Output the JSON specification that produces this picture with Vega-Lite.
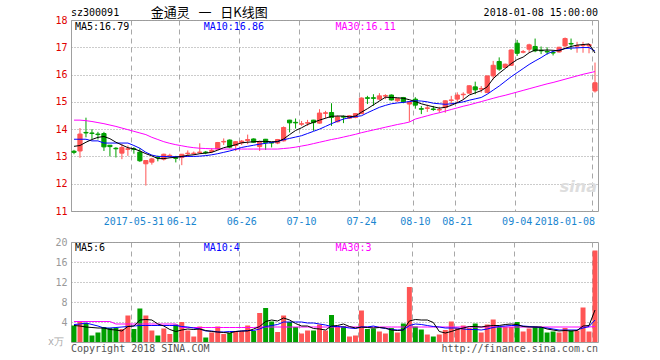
{
"$schema": "https://vega.github.io/schema/vega-lite/v6.json",
"background": "white",
"padding": {"left": 47, "top": 6, "right": 5, "bottom": 5},
"config": {
  "font": "DejaVu Sans Mono",
  "view": {"stroke": "#a0a0a0", "strokeWidth": 1},
  "axis": {"labelFont": "DejaVu Sans Mono", "labelFontSize": 10, "ticks": false, "domain": false, "gridColor": "#a8a8a8", "gridWidth": 1, "labelOverlap": false},
  "text": {"font": "DejaVu Sans Mono", "fontSize": 10},
  "line": {"strokeWidth": 1}
},
"datasets": {"k": [
{"d":"2017-05-15","o":13.19,"h":13.24,"l":13.08,"c":13.15,"v":3.3,"m5":13.37,"m10":13.63,"m30":14.33,"vm5":3.3,"vm10":3.5,"vm30":4.1},
{"d":"2017-05-16","o":13.20,"h":14.04,"l":12.95,"c":13.82,"v":4.0,"m5":13.40,"m10":13.63,"m30":14.33,"vm5":3.2,"vm10":3.6,"vm30":4.1},
{"d":"2017-05-17","o":13.88,"h":14.42,"l":13.70,"c":13.86,"v":3.8,"m5":13.52,"m10":13.63,"m30":14.31,"vm5":3.0,"vm10":3.8,"vm30":4.1},
{"d":"2017-05-18","o":13.86,"h":14.00,"l":13.64,"c":13.84,"v":1.3,"m5":13.62,"m10":13.57,"m30":14.28,"vm5":2.9,"vm10":3.5,"vm30":4.1},
{"d":"2017-05-19","o":13.82,"h":13.90,"l":13.62,"c":13.80,"v":1.9,"m5":13.70,"m10":13.57,"m30":14.24,"vm5":2.8,"vm10":3.2,"vm30":4.1},
{"d":"2017-05-22","o":13.84,"h":13.90,"l":13.20,"c":13.35,"v":3.0,"m5":13.73,"m10":13.49,"m30":14.20,"vm5":2.8,"vm10":2.8,"vm30":4.1},
{"d":"2017-05-23","o":13.41,"h":13.42,"l":13.00,"c":13.36,"v":2.8,"m5":13.65,"m10":13.49,"m30":14.15,"vm5":2.5,"vm10":2.8,"vm30":4.1},
{"d":"2017-05-24","o":13.30,"h":13.34,"l":12.96,"c":13.28,"v":2.8,"m5":13.52,"m10":13.49,"m30":14.10,"vm5":2.4,"vm10":2.9,"vm30":3.6},
{"d":"2017-05-25","o":13.12,"h":13.45,"l":12.90,"c":13.33,"v":2.6,"m5":13.42,"m10":13.49,"m30":14.04,"vm5":2.2,"vm10":3.0,"vm30":3.6},
{"d":"2017-05-26","o":13.26,"h":13.40,"l":13.02,"c":13.28,"v":5.3,"m5":13.32,"m10":13.49,"m30":13.98,"vm5":3.1,"vm10":3.1,"vm30":3.6},
{"d":"2017-05-31","o":13.28,"h":13.34,"l":13.10,"c":13.26,"v":2.6,"m5":13.28,"m10":13.40,"m30":13.92,"vm5":3.2,"vm10":3.2,"vm30":3.6},
{"d":"2017-06-01","o":13.16,"h":13.30,"l":12.80,"c":12.84,"v":6.7,"m5":13.20,"m10":13.30,"m30":13.86,"vm5":4.4,"vm10":3.3,"vm30":3.6},
{"d":"2017-06-02","o":12.73,"h":12.86,"l":11.93,"c":12.85,"v":5.3,"m5":13.10,"m10":13.15,"m30":13.80,"vm5":4.5,"vm10":3.3,"vm30":3.6},
{"d":"2017-06-05","o":12.79,"h":12.95,"l":12.70,"c":12.91,"v":2.3,"m5":13.02,"m10":13.05,"m30":13.70,"vm5":4.4,"vm10":3.3,"vm30":3.6},
{"d":"2017-06-06","o":12.97,"h":13.03,"l":12.82,"c":12.95,"v":1.3,"m5":12.92,"m10":13.00,"m30":13.62,"vm5":3.6,"vm10":3.3,"vm30":3.6},
{"d":"2017-06-07","o":12.90,"h":13.10,"l":12.85,"c":13.08,"v":2.7,"m5":12.92,"m10":13.00,"m30":13.54,"vm5":3.2,"vm10":3.3,"vm30":3.6},
{"d":"2017-06-08","o":13.02,"h":13.10,"l":12.96,"c":13.04,"v":1.6,"m5":12.95,"m10":12.99,"m30":13.48,"vm5":2.5,"vm10":3.3,"vm30":3.6},
{"d":"2017-06-09","o":12.95,"h":13.02,"l":12.78,"c":12.93,"v":3.5,"m5":12.97,"m10":12.99,"m30":13.43,"vm5":2.1,"vm10":3.3,"vm30":3.6},
{"d":"2017-06-12","o":12.96,"h":13.08,"l":12.68,"c":13.08,"v":4.0,"m5":13.00,"m10":12.99,"m30":13.39,"vm5":2.4,"vm10":3.1,"vm30":2.9},
{"d":"2017-06-13","o":13.10,"h":13.22,"l":12.98,"c":13.12,"v":2.3,"m5":13.04,"m10":13.00,"m30":13.35,"vm5":2.6,"vm10":3.0,"vm30":2.9},
{"d":"2017-06-14","o":13.10,"h":13.18,"l":13.05,"c":13.12,"v":1.1,"m5":13.06,"m10":13.00,"m30":13.32,"vm5":2.5,"vm10":2.8,"vm30":2.9},
{"d":"2017-06-15","o":13.14,"h":13.48,"l":13.10,"c":13.16,"v":3.1,"m5":13.10,"m10":13.01,"m30":13.30,"vm5":2.6,"vm10":2.6,"vm30":2.9},
{"d":"2017-06-16","o":13.16,"h":13.20,"l":13.08,"c":13.14,"v":0.9,"m5":13.12,"m10":13.03,"m30":13.29,"vm5":2.3,"vm10":2.2,"vm30":2.9},
{"d":"2017-06-19","o":13.18,"h":13.30,"l":13.12,"c":13.22,"v":1.9,"m5":13.15,"m10":13.06,"m30":13.28,"vm5":2.1,"vm10":2.2,"vm30":2.9},
{"d":"2017-06-20","o":13.27,"h":13.53,"l":13.25,"c":13.51,"v":3.1,"m5":13.23,"m10":13.10,"m30":13.28,"vm5":2.0,"vm10":2.0,"vm30":2.9},
{"d":"2017-06-21","o":13.53,"h":13.66,"l":13.42,"c":13.55,"v":1.6,"m5":13.32,"m10":13.15,"m30":13.27,"vm5":1.9,"vm10":2.0,"vm30":2.9},
{"d":"2017-06-22","o":13.60,"h":13.62,"l":13.30,"c":13.34,"v":1.8,"m5":13.37,"m10":13.20,"m30":13.27,"vm5":1.8,"vm10":2.1,"vm30":2.9},
{"d":"2017-06-23","o":13.40,"h":13.56,"l":13.20,"c":13.54,"v":2.2,"m5":13.43,"m10":13.26,"m30":13.27,"vm5":2.1,"vm10":2.1,"vm30":2.9},
{"d":"2017-06-26","o":13.50,"h":13.60,"l":13.42,"c":13.56,"v":2.2,"m5":13.50,"m10":13.33,"m30":13.27,"vm5":2.2,"vm10":2.2,"vm30":2.9},
{"d":"2017-06-27","o":13.58,"h":13.80,"l":13.45,"c":13.62,"v":3.3,"m5":13.52,"m10":13.37,"m30":13.27,"vm5":2.2,"vm10":2.3,"vm30":2.9},
{"d":"2017-06-28","o":13.64,"h":13.66,"l":13.50,"c":13.52,"v":2.2,"m5":13.54,"m10":13.41,"m30":13.27,"vm5":2.6,"vm10":2.3,"vm30":2.9},
{"d":"2017-06-29","o":13.36,"h":13.58,"l":13.20,"c":13.54,"v":5.8,"m5":13.55,"m10":13.45,"m30":13.27,"vm5":3.1,"vm10":2.6,"vm30":3.0},
{"d":"2017-06-30","o":13.63,"h":13.64,"l":13.24,"c":13.51,"v":6.8,"m5":13.55,"m10":13.48,"m30":13.27,"vm5":4.1,"vm10":3.1,"vm30":3.0},
{"d":"2017-07-03","o":13.51,"h":13.52,"l":13.33,"c":13.49,"v":4.1,"m5":13.54,"m10":13.51,"m30":13.27,"vm5":4.4,"vm10":3.3,"vm30":3.0},
{"d":"2017-07-04","o":13.49,"h":13.64,"l":13.45,"c":13.62,"v":2.0,"m5":13.54,"m10":13.55,"m30":13.27,"vm5":4.2,"vm10":3.5,"vm30":3.0},
{"d":"2017-07-05","o":13.57,"h":14.10,"l":13.55,"c":14.06,"v":5.3,"m5":13.64,"m10":13.61,"m30":13.29,"vm5":4.8,"vm10":4.0,"vm30":3.0},
{"d":"2017-07-06","o":14.33,"h":14.34,"l":13.88,"c":14.23,"v":4.0,"m5":13.80,"m10":13.66,"m30":13.31,"vm5":4.4,"vm10":4.0,"vm30":3.0},
{"d":"2017-07-07","o":14.25,"h":14.39,"l":14.02,"c":14.23,"v":3.0,"m5":13.95,"m10":13.71,"m30":13.34,"vm5":3.7,"vm10":4.0,"vm30":3.0},
{"d":"2017-07-10","o":14.18,"h":14.30,"l":14.12,"c":14.20,"v":1.7,"m5":14.05,"m10":13.76,"m30":13.38,"vm5":3.2,"vm10":4.0,"vm30":3.0},
{"d":"2017-07-11","o":14.22,"h":14.34,"l":14.12,"c":14.24,"v":2.3,"m5":14.17,"m10":13.84,"m30":13.42,"vm5":3.2,"vm10":3.8,"vm30":3.0},
{"d":"2017-07-12","o":14.33,"h":14.34,"l":13.94,"c":14.24,"v":2.3,"m5":14.25,"m10":13.92,"m30":13.47,"vm5":2.7,"vm10":3.8,"vm30":3.0},
{"d":"2017-07-13","o":14.22,"h":14.73,"l":14.20,"c":14.59,"v":3.5,"m5":14.33,"m10":14.00,"m30":13.52,"vm5":2.6,"vm10":3.6,"vm30":3.0},
{"d":"2017-07-14","o":14.58,"h":14.67,"l":14.39,"c":14.60,"v":2.3,"m5":14.40,"m10":14.10,"m30":13.57,"vm5":2.4,"vm10":3.4,"vm30":3.0},
{"d":"2017-07-17","o":14.61,"h":14.95,"l":14.12,"c":14.43,"v":5.4,"m5":14.47,"m10":14.20,"m30":13.62,"vm5":3.2,"vm10":3.1,"vm30":3.0},
{"d":"2017-07-18","o":14.27,"h":14.50,"l":14.25,"c":14.45,"v":3.1,"m5":14.48,"m10":14.29,"m30":13.66,"vm5":3.3,"vm10":3.1,"vm30":3.0},
{"d":"2017-07-19","o":14.46,"h":14.50,"l":14.22,"c":14.44,"v":3.2,"m5":14.48,"m10":14.37,"m30":13.71,"vm5":3.6,"vm10":3.0,"vm30":3.0},
{"d":"2017-07-20","o":14.40,"h":14.50,"l":14.38,"c":14.49,"v":1.1,"m5":14.45,"m10":14.42,"m30":13.76,"vm5":3.1,"vm10":2.8,"vm30":3.0},
{"d":"2017-07-21","o":14.43,"h":14.58,"l":14.40,"c":14.57,"v":1.3,"m5":14.48,"m10":14.46,"m30":13.81,"vm5":2.8,"vm10":2.7,"vm30":3.0},
{"d":"2017-07-24","o":14.57,"h":15.16,"l":14.55,"c":15.14,"v":6.3,"m5":14.62,"m10":14.49,"m30":13.87,"vm5":3.0,"vm10":3.0,"vm30":3.0},
{"d":"2017-07-25","o":15.15,"h":15.22,"l":14.92,"c":15.13,"v":2.6,"m5":14.75,"m10":14.60,"m30":13.92,"vm5":2.9,"vm10":3.0,"vm30":3.0},
{"d":"2017-07-26","o":15.15,"h":15.28,"l":14.86,"c":15.13,"v":2.7,"m5":14.89,"m10":14.70,"m30":13.97,"vm5":2.8,"vm10":3.2,"vm30":3.0},
{"d":"2017-07-27","o":15.10,"h":15.32,"l":15.05,"c":15.22,"v":2.1,"m5":15.03,"m10":14.80,"m30":14.02,"vm5":2.9,"vm10":2.9,"vm30":3.0},
{"d":"2017-07-28","o":15.21,"h":15.28,"l":15.10,"c":15.23,"v":1.7,"m5":15.17,"m10":14.87,"m30":14.07,"vm5":2.8,"vm10":2.7,"vm30":3.0},
{"d":"2017-07-31","o":15.25,"h":15.27,"l":15.05,"c":15.07,"v":2.8,"m5":15.16,"m10":14.93,"m30":14.12,"vm5":2.4,"vm10":2.5,"vm30":3.0},
{"d":"2017-08-07","o":15.04,"h":15.14,"l":15.00,"c":15.12,"v":1.9,"m5":15.15,"m10":14.96,"m30":14.17,"vm5":2.3,"vm10":2.4,"vm30":3.0},
{"d":"2017-08-08","o":15.16,"h":15.18,"l":14.95,"c":15.00,"v":3.7,"m5":15.13,"m10":14.98,"m30":14.21,"vm5":2.4,"vm10":2.4,"vm30":3.0},
{"d":"2017-08-09","o":14.92,"h":15.02,"l":14.27,"c":15.00,"v":11.0,"m5":15.08,"m10":15.01,"m30":14.26,"vm5":4.2,"vm10":3.3,"vm30":3.0},
{"d":"2017-08-10","o":15.10,"h":15.17,"l":14.75,"c":14.88,"v":3.1,"m5":15.01,"m10":15.04,"m30":14.37,"vm5":4.5,"vm10":3.6,"vm30":3.0},
{"d":"2017-08-11","o":14.75,"h":14.85,"l":14.55,"c":14.73,"v":2.5,"m5":14.93,"m10":15.03,"m30":14.43,"vm5":4.4,"vm10":3.5,"vm30":3.0},
{"d":"2017-08-14","o":14.76,"h":14.90,"l":14.63,"c":14.78,"v":1.5,"m5":14.87,"m10":15.00,"m30":14.49,"vm5":4.4,"vm10":3.3,"vm30":3.0},
{"d":"2017-08-15","o":14.74,"h":14.85,"l":14.67,"c":14.72,"v":1.1,"m5":14.82,"m10":14.95,"m30":14.55,"vm5":3.9,"vm10":3.1,"vm30":3.0},
{"d":"2017-08-16","o":14.70,"h":14.82,"l":14.60,"c":14.72,"v":1.5,"m5":14.77,"m10":14.93,"m30":14.60,"vm5":2.1,"vm10":3.0,"vm30":3.0},
{"d":"2017-08-17","o":14.79,"h":15.05,"l":14.60,"c":15.04,"v":2.4,"m5":14.80,"m10":14.91,"m30":14.66,"vm5":1.8,"vm10":2.8,"vm30":3.0},
{"d":"2017-08-18","o":15.05,"h":15.22,"l":14.88,"c":15.07,"v":4.1,"m5":14.87,"m10":14.93,"m30":14.72,"vm5":2.1,"vm10":2.8,"vm30":3.0},
{"d":"2017-08-21","o":15.10,"h":15.35,"l":14.98,"c":15.25,"v":2.8,"m5":14.97,"m10":14.96,"m30":14.78,"vm5":2.5,"vm10":2.8,"vm30":3.0},
{"d":"2017-08-22","o":15.26,"h":15.35,"l":15.10,"c":15.28,"v":3.3,"m5":15.08,"m10":15.00,"m30":14.84,"vm5":2.8,"vm10":2.6,"vm30":3.0},
{"d":"2017-08-23","o":15.32,"h":15.60,"l":15.30,"c":15.59,"v":2.8,"m5":15.25,"m10":15.06,"m30":14.89,"vm5":3.1,"vm10":2.5,"vm30":3.0},
{"d":"2017-08-24","o":15.55,"h":15.74,"l":15.28,"c":15.44,"v":3.7,"m5":15.33,"m10":15.11,"m30":14.95,"vm5":3.1,"vm10":2.5,"vm30":3.0},
{"d":"2017-08-25","o":15.47,"h":15.58,"l":15.34,"c":15.49,"v":1.9,"m5":15.41,"m10":15.16,"m30":15.01,"vm5":3.0,"vm10":2.4,"vm30":3.0},
{"d":"2017-08-28","o":15.34,"h":15.96,"l":15.32,"c":15.95,"v":3.5,"m5":15.55,"m10":15.28,"m30":15.07,"vm5":3.2,"vm10":2.6,"vm30":3.0},
{"d":"2017-08-29","o":15.95,"h":16.50,"l":15.82,"c":16.34,"v":4.5,"m5":15.85,"m10":15.43,"m30":15.13,"vm5":3.3,"vm10":2.9,"vm30":3.0},
{"d":"2017-08-30","o":16.48,"h":16.63,"l":16.14,"c":16.20,"v":3.0,"m5":16.05,"m10":15.58,"m30":15.19,"vm5":3.3,"vm10":3.1,"vm30":3.0},
{"d":"2017-08-31","o":16.26,"h":16.40,"l":16.24,"c":16.38,"v":3.0,"m5":16.22,"m10":15.75,"m30":15.24,"vm5":3.5,"vm10":3.2,"vm30":3.0},
{"d":"2017-09-01","o":16.34,"h":16.92,"l":16.32,"c":16.90,"v":3.0,"m5":16.40,"m10":15.92,"m30":15.30,"vm5":3.6,"vm10":3.3,"vm30":3.0},
{"d":"2017-09-04","o":17.15,"h":17.27,"l":16.68,"c":16.78,"v":4.0,"m5":16.55,"m10":16.07,"m30":15.36,"vm5":3.5,"vm10":3.3,"vm30":3.0},
{"d":"2017-09-05","o":16.82,"h":16.90,"l":16.78,"c":16.84,"v":2.1,"m5":16.64,"m10":16.22,"m30":15.42,"vm5":3.1,"vm10":3.2,"vm30":3.0},
{"d":"2017-09-06","o":16.93,"h":17.13,"l":16.80,"c":17.09,"v":2.7,"m5":16.80,"m10":16.37,"m30":15.48,"vm5":3.0,"vm10":3.1,"vm30":3.0},
{"d":"2017-09-07","o":17.03,"h":17.32,"l":16.82,"c":16.87,"v":3.1,"m5":16.90,"m10":16.50,"m30":15.54,"vm5":3.0,"vm10":3.0,"vm30":3.0},
{"d":"2017-09-08","o":16.89,"h":17.03,"l":16.75,"c":16.87,"v":3.0,"m5":16.89,"m10":16.62,"m30":15.60,"vm5":3.0,"vm10":2.9,"vm30":3.0},
{"d":"2017-09-11","o":16.85,"h":17.00,"l":16.73,"c":16.83,"v":1.9,"m5":16.90,"m10":16.76,"m30":15.66,"vm5":2.6,"vm10":2.8,"vm30":3.0},
{"d":"2017-09-12","o":16.81,"h":16.88,"l":16.70,"c":16.79,"v":2.1,"m5":16.89,"m10":16.85,"m30":15.71,"vm5":2.4,"vm10":2.6,"vm30":3.0},
{"d":"2017-09-13","o":16.83,"h":17.02,"l":16.80,"c":17.00,"v":1.9,"m5":16.87,"m10":16.90,"m30":15.77,"vm5":2.2,"vm10":2.4,"vm30":3.0},
{"d":"2017-09-14","o":17.05,"h":17.36,"l":17.00,"c":17.32,"v":2.8,"m5":16.96,"m10":16.95,"m30":15.83,"vm5":2.3,"vm10":2.4,"vm30":3.0},
{"d":"2017-09-15","o":17.14,"h":17.32,"l":16.90,"c":17.12,"v":2.3,"m5":17.03,"m10":16.97,"m30":15.89,"vm5":2.2,"vm10":2.4,"vm30":3.0},
{"d":"2017-09-18","o":17.04,"h":17.20,"l":16.80,"c":17.06,"v":2.3,"m5":17.08,"m10":16.98,"m30":15.95,"vm5":2.3,"vm10":2.4,"vm30":3.0},
{"d":"2017-09-19","o":17.06,"h":17.20,"l":16.80,"c":17.08,"v":6.9,"m5":17.10,"m10":16.99,"m30":16.01,"vm5":3.2,"vm10":2.8,"vm30":3.0},
{"d":"2017-09-20","o":17.05,"h":17.14,"l":16.78,"c":17.10,"v":2.1,"m5":17.12,"m10":16.99,"m30":16.06,"vm5":3.3,"vm10":3.1,"vm30":3.0},
{"d":"2018-01-08","o":15.40,"h":16.44,"l":15.34,"c":15.70,"v":18.3,"m5":16.79,"m10":16.86,"m30":16.11,"vm5":6.4,"vm10":4.4,"vm30":3.1}
]},
"spacing": 9,
"resolve": {"scale": {"x": "independent", "y": "independent"}},
"vconcat": [
{
  "width": 527, "height": 191,
  "data": {"name": "k"},
  "encoding": {
    "x": {"field": "d", "type": "ordinal", "title": null,
      "scale": {"paddingInner": 0.3, "paddingOuter": 0.15},
      "axis": {"values": ["2017-05-31","2017-06-12","2017-06-26","2017-07-10","2017-07-24","2017-08-10","2017-08-21","2017-09-04","2018-01-08"],
        "labelExpr": "datum.value == '2017-05-31' || datum.value == '2018-01-08' ? datum.value : slice(datum.value, 5)",
        "bandPosition": 0, "grid": true, "gridDash": [5, 4], "labelColor": "#1a86d0", "labelPadding": 5, "labelOverlap": false, "labelAngle": 0,
        "labelAlign": {"condition": {"test": "datum.value == '2018-01-08'", "value": "right"}, "value": "center"}}}
  },
  "layer": [
    {"mark": {"type": "rule", "strokeWidth": 1},
     "encoding": {
       "y": {"field": "l", "type": "quantitative", "title": null, "scale": {"domain": [11, 18], "nice": false, "zero": false},
         "axis": {"values": [11,12,13,14,15,16,17,18], "tickCount": 20, "format": "d", "grid": true, "gridDash": [1, 2], "gridColor": "#999999", "labelColor": "#e00000", "labelPadding": 4, "labelOverlap": false}},
       "y2": {"field": "h"},
       "color": {"condition": {"test": "datum.c >= datum.o", "value": "#ff5555"}, "value": "#00a000"}}},
    {"mark": {"type": "bar", "strokeWidth": 1},
     "encoding": {
       "y": {"field": "o", "type": "quantitative"},
       "y2": {"field": "c"},
       "color": {"condition": {"test": "datum.c >= datum.o", "value": "#ff5555"}, "value": "#00a000"},
       "stroke": {"condition": {"test": "datum.c >= datum.o", "value": "#ff5555"}, "value": "#00a000"}}},
    {"mark": {"type": "line", "color": "#ff00ff", "strokeWidth": 1}, "encoding": {"y": {"field": "m30", "type": "quantitative"}}},
    {"mark": {"type": "line", "color": "#0000ff", "strokeWidth": 1}, "encoding": {"y": {"field": "m10", "type": "quantitative"}}},
    {"mark": {"type": "line", "color": "#000000", "strokeWidth": 1}, "encoding": {"y": {"field": "m5", "type": "quantitative"}}},
    {"data": {"values": [{}]}, "mark": {"type": "text", "align": "left", "baseline": "middle", "color": "#000000", "dx": 1},
     "encoding": {"x": {"datum": "2017-05-15", "type": "ordinal"}, "y": {"datum": 17.74, "type": "quantitative"}, "text": {"value": "MA5:16.79"}}},
    {"data": {"values": [{}]}, "mark": {"type": "text", "align": "left", "baseline": "middle", "color": "#0000ff", "dx": -2},
     "encoding": {"x": {"datum": "2017-06-16", "type": "ordinal"}, "y": {"datum": 17.74, "type": "quantitative"}, "text": {"value": "MA10:16.86"}}},
    {"data": {"values": [{}]}, "mark": {"type": "text", "align": "left", "baseline": "middle", "color": "#ff00ff", "dx": -2},
     "encoding": {"x": {"datum": "2017-07-18", "type": "ordinal"}, "y": {"datum": 17.74, "type": "quantitative"}, "text": {"value": "MA30:16.11"}}},
    {"data": {"values": [{}]}, "mark": {"type": "text", "align": "left", "baseline": "middle", "color": "#000000", "dx": -3},
     "encoding": {"x": {"datum": "2017-05-15", "type": "ordinal"}, "y": {"datum": 18.26, "type": "quantitative"}, "text": {"value": "sz300091"}}},
    {"data": {"values": [{}]}, "mark": {"type": "text", "align": "left", "baseline": "middle", "color": "#000000", "dx": -1, "font": "Noto Sans CJK SC", "fontSize": 13},
     "encoding": {"x": {"datum": "2017-06-05", "type": "ordinal"}, "y": {"datum": 18.26, "type": "quantitative"}, "text": {"value": "金通灵\u00a0\u00a0\u00a0一\u00a0\u00a0\u00a0日K线图"}}},
    {"data": {"values": [{}]}, "mark": {"type": "text", "align": "right", "baseline": "middle", "color": "#000000", "dx": 3},
     "encoding": {"x": {"datum": "2018-01-08", "type": "ordinal"}, "y": {"datum": 18.26, "type": "quantitative"}, "text": {"value": "2018-01-08 15:00:00"}}},
    {"data": {"values": [{}]}, "mark": {"type": "text", "align": "right", "baseline": "alphabetic", "color": "#dddddd", "dx": 2, "font": "DejaVu Sans", "fontSize": 16, "fontStyle": "italic", "fontWeight": "bold"},
     "encoding": {"x": {"datum": "2018-01-08", "type": "ordinal"}, "y": {"datum": 11.69, "type": "quantitative"}, "text": {"value": "sina"}}}
  ]
},
{
  "width": 527, "height": 100,
  "data": {"name": "k"},
  "encoding": {
    "x": {"field": "d", "type": "ordinal", "title": null,
      "scale": {"paddingInner": 0.17, "paddingOuter": 0.085},
      "axis": {"values": ["2017-05-31","2017-06-12","2017-06-26","2017-07-10","2017-07-24","2017-08-10","2017-08-21","2017-09-04","2018-01-08"],
        "bandPosition": 0, "grid": true, "gridDash": [5, 4], "labels": false}}
  },
  "layer": [
    {"mark": {"type": "bar"},
     "encoding": {
       "y": {"field": "v", "type": "quantitative", "title": null, "scale": {"domain": [0, 20], "nice": false},
         "axis": {"values": [4, 8, 12, 16, 20], "tickCount": 20, "format": "d", "grid": true, "gridDash": [1, 2], "gridColor": "#999999", "labelColor": "#999999", "labelPadding": 4, "labelOverlap": false}},
       "color": {"condition": {"test": "datum.c >= datum.o", "value": "#ff5555"}, "value": "#00a000"}}},
    {"mark": {"type": "line", "color": "#ff00ff", "strokeWidth": 1}, "encoding": {"y": {"field": "vm30", "type": "quantitative"}}},
    {"mark": {"type": "line", "color": "#0000ff", "strokeWidth": 1}, "encoding": {"y": {"field": "vm10", "type": "quantitative"}}},
    {"mark": {"type": "line", "color": "#000000", "strokeWidth": 1}, "encoding": {"y": {"field": "vm5", "type": "quantitative"}}},
    {"data": {"values": [{}]}, "mark": {"type": "text", "align": "left", "baseline": "middle", "color": "#000000", "dx": 1},
     "encoding": {"x": {"datum": "2017-05-15", "type": "ordinal"}, "y": {"datum": 18.8, "type": "quantitative"}, "text": {"value": "MA5:6"}}},
    {"data": {"values": [{}]}, "mark": {"type": "text", "align": "left", "baseline": "middle", "color": "#0000ff", "dx": -2},
     "encoding": {"x": {"datum": "2017-06-16", "type": "ordinal"}, "y": {"datum": 18.8, "type": "quantitative"}, "text": {"value": "MA10:4"}}},
    {"data": {"values": [{}]}, "mark": {"type": "text", "align": "left", "baseline": "middle", "color": "#ff00ff", "dx": -2},
     "encoding": {"x": {"datum": "2017-07-18", "type": "ordinal"}, "y": {"datum": 18.8, "type": "quantitative"}, "text": {"value": "MA30:3"}}},
    {"data": {"values": [{}]}, "mark": {"type": "text", "align": "right", "baseline": "middle", "color": "#aaaaaa", "dx": -10},
     "encoding": {"x": {"datum": "2017-05-15", "type": "ordinal"}, "y": {"datum": 0, "type": "quantitative"}, "text": {"value": "x万"}}},
    {"data": {"values": [{}]}, "mark": {"type": "text", "align": "left", "baseline": "middle", "color": "#555555", "dx": -3},
     "encoding": {"x": {"datum": "2017-05-15", "type": "ordinal"}, "y": {"datum": -1.4, "type": "quantitative"}, "text": {"value": "Copyright 2018 SINA.COM"}}},
    {"data": {"values": [{}]}, "mark": {"type": "text", "align": "right", "baseline": "middle", "color": "#555555", "dx": 3},
     "encoding": {"x": {"datum": "2018-01-08", "type": "ordinal"}, "y": {"datum": -1.4, "type": "quantitative"}, "text": {"value": "http://finance.sina.com.cn"}}}
  ]
}
]
}
